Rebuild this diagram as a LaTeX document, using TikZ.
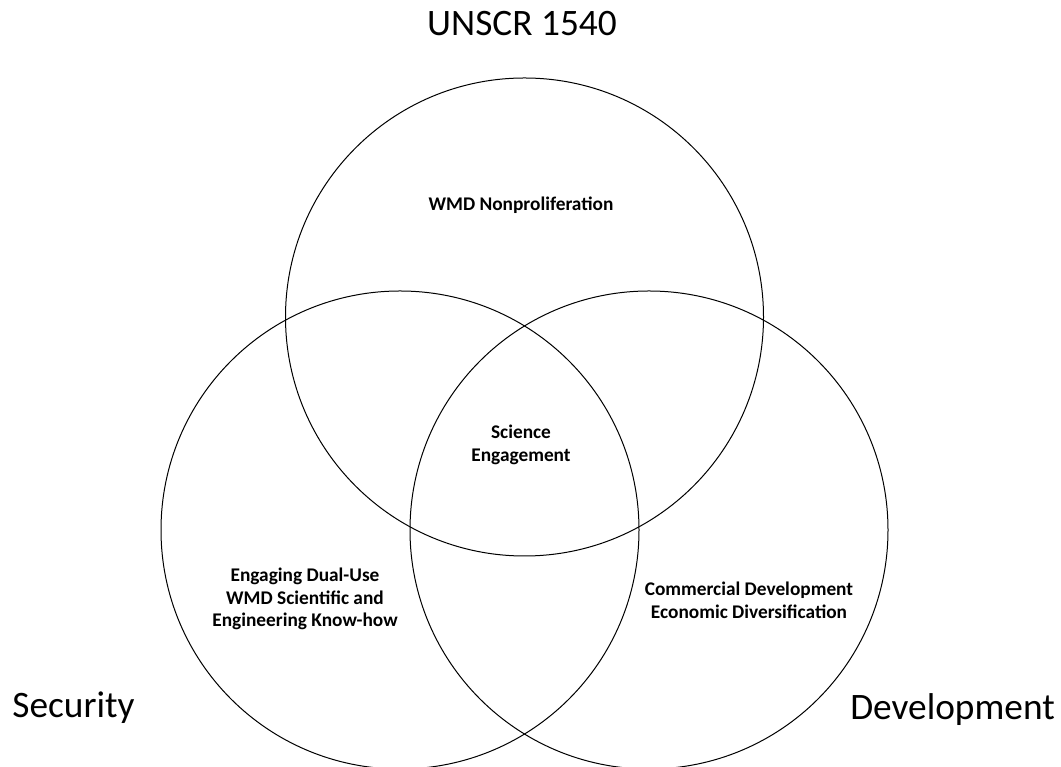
\documentclass[tikz,border=0pt]{standalone}
\usepackage{fontspec}
\setmainfont{Carlito}
\begin{document}
\begin{tikzpicture}[x=0.75pt, y=0.75pt,
    region/.style={font=\bfseries\fontsize{14.5}{17}\selectfont, align=center, inner sep=0pt},
    area/.style={font=\fontsize{28}{34}\selectfont, inner sep=0pt, anchor=base}]
\useasboundingbox (0,0) rectangle (1061,767);
% the three circles: top, left, right
\foreach \cx/\cy in {524.5/450, 400/237, 649/237}
    \draw[line width=0.75pt] (\cx,\cy) circle (239);
\node[area] (unscr) at (522,731) {UNSCR 1540};
\node[area] (secur) at (73.5,49) {Security};
\node[area] (devel) at (952.5,47) {Development};
\node[region, anchor=base] (nonpro) at (521,556) {WMD Nonproliferation};
\node[region] (sci) at (521,322) {Science\\Engagement};
\node[region] (dual) at (305,168) {Engaging Dual-Use\\WMD Scientific and\\Engineering Know-how};
\node[region] (comm) at (749,167) {Commercial Development\\Economic Diversification};
\end{tikzpicture}
\end{document}
